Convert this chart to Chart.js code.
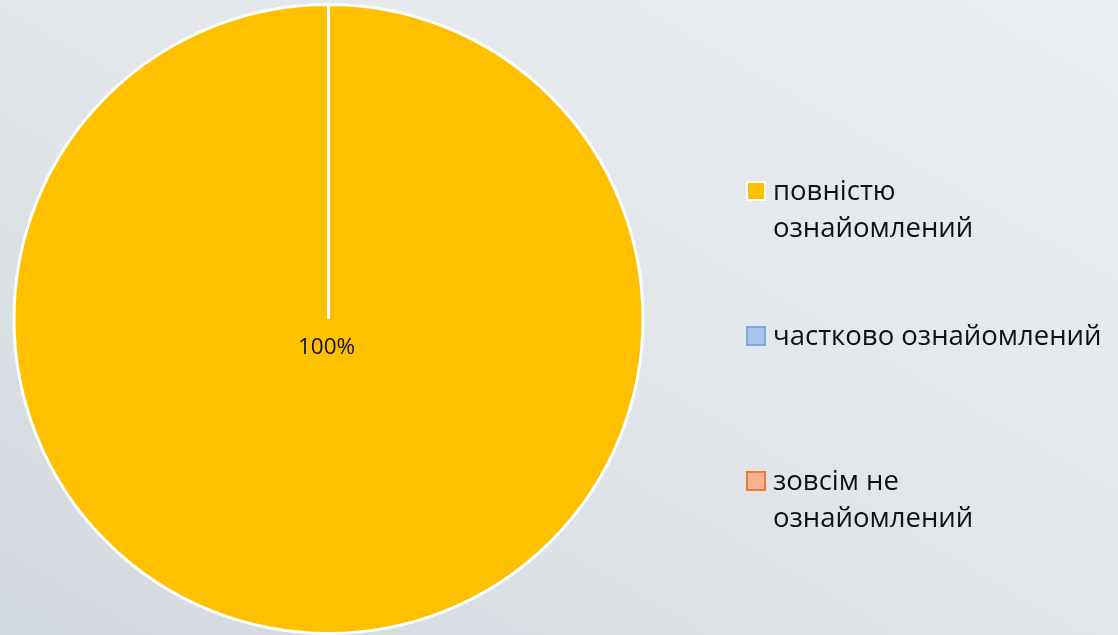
<!DOCTYPE html>
<html>
<head>
<meta charset="utf-8">
<script src="https://cdn.jsdelivr.net/npm/chart.js@4"></script>
<style>
  html, body { margin: 0; padding: 0; }
  body {
    width: 1118px; height: 635px; overflow: hidden; position: relative;
    background: linear-gradient(30deg, #d2d8df 0%, #e2e6ea 50%, #ebeef0 100%);
    font-family: "Open Sans", "Noto Sans", sans-serif;
  }
  #wrap { position: absolute; left: 0; top: 0; width: 1118px; height: 635px; }
  #legend { position: absolute; left: 746px; top: 0; width: 372px; }
  .item { position: absolute; left: 0; display: flex; align-items: flex-start; }
  .box { width: 16px; height: 16px; margin-top: 10px; border: 2px solid; box-sizing: content-box; }
  .txt { margin-left: 7px; font-size: 27.5px; line-height: 37px; color: #111; white-space: nowrap; }
</style>
</head>
<body>
<div id="wrap"><canvas id="pieChart"></canvas></div>
<div id="legend"></div>
<script>
const labels = ['повністю ознайомлений', 'частково ознайомлений', 'зовсім не ознайомлений'];
const legendLines = [['повністю', 'ознайомлений'], ['частково ознайомлений'], ['зовсім не', 'ознайомлений']];
const values = [100, 0, 0];
const colors = ['#FFC000', '#A9C4EB', '#F8B195'];
const borders = ['#FFFFFF', '#7EA6E0', '#ED7D31'];
const legendTops = [171, 316, 461];

// legend on the right
const legend = document.getElementById('legend');
labels.forEach((l, i) => {
    const item = document.createElement('div');
    item.className = 'item';
    item.style.top = legendTops[i] + 'px';
    item.innerHTML = '<div class="box" style="background:' + colors[i] + ';border-color:' + borders[i] + '"></div>' +
        '<div class="txt">' + legendLines[i].join('<br>') + '</div>';
    legend.appendChild(item);
});

const pctLabel = {
    id: 'pctLabel',
    afterDatasetsDraw(chart) {
        const ctx = chart.ctx;
        const data = chart.data.datasets[0].data;
        const total = data.reduce((a, b) => a + b, 0);
        chart.getDatasetMeta(0).data.forEach((arc, i) => {
            if (!data[i]) return;
            ctx.save();
            ctx.font = '22.5px "Open Sans", "Noto Sans", sans-serif';
            ctx.fillStyle = '#111';
            ctx.textAlign = 'center';
            ctx.textBaseline = 'middle';
            ctx.fillText(Math.round(data[i] / total * 100) + '%', arc.x - 2, arc.y + arc.outerRadius * 0.09);
            ctx.restore();
        });
    }
};

new Chart(document.getElementById('pieChart'), {
    type: 'pie',
    data: {
        labels: labels,
        datasets: [{
            data: values,
            backgroundColor: colors,
            borderColor: '#FFFFFF',
            borderWidth: 3
        }]
    },
    options: {
        responsive: true,
        maintainAspectRatio: false,
        animation: false,
        layout: { padding: { top: 3, bottom: 0, left: 11, right: 472 } },
        plugins: {
            legend: { display: false },
            tooltip: { enabled: false }
        }
    },
    plugins: [pctLabel]
});
</script>
</body>
</html>
